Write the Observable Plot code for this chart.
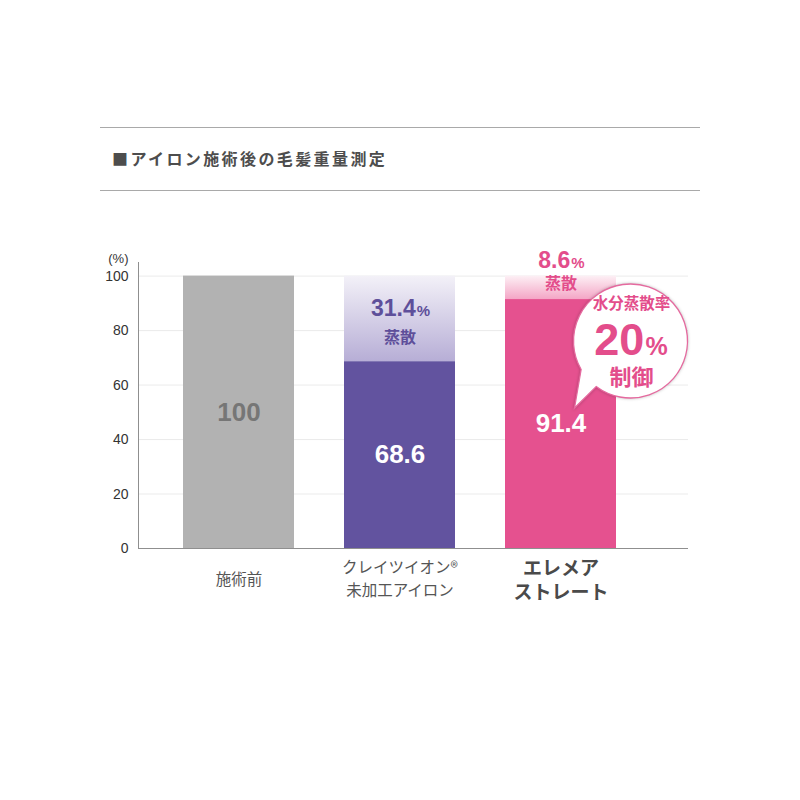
<!DOCTYPE html>
<html><head><meta charset="utf-8">
<script src="https://cdn.jsdelivr.net/npm/d3@7"></script>
<script src="https://cdn.jsdelivr.net/npm/@observablehq/plot@0.6"></script>
<style>
body{margin:0;background:#fff;}
#page{position:relative;width:800px;height:800px;font-family:"Liberation Sans",Arial,"Noto Sans CJK JP",sans-serif;}
.rule{position:absolute;left:100px;width:600px;height:0;border-top:1.5px solid #a9a9a9;}
#title{position:absolute;left:112px;top:146px;font-size:16px;font-weight:bold;letter-spacing:2.4px;color:#4d4d4d;line-height:24px;font-family:"Noto Sans CJK JP",sans-serif;white-space:nowrap;}
#chart{position:absolute;left:0;top:230px;}
</style></head>
<body><div id="page">
<div class="rule" style="top:127px"></div>
<div id="title">■アイロン施術後の毛髪重量測定</div>
<div class="rule" style="top:190px"></div>
<div id="chart"></div>
</div>
<script>
// ---- data ----
const categories = ["施術前", "クレイツイオン®\n未加工アイロン", "エレメア\nストレート"];
const remaining = [100, 68.6, 91.4];
const evaporated = [0, 31.4, 8.6];
const yTicks = [0, 20, 40, 60, 80, 100];
const yUnit = "(%)";
const evapWord = "蒸散";
const bubbleTop = "水分蒸散率";
const bubbleRate = 20;
const bubbleBottom = "制御";
const bubbleCenterValue = 76;
const bubbleTipValue = 51.4;

// ---- styles ----
const solidColors = ["#b2b2b2", "#62539f", "#e5518f"];
const gradIds = [null, "gPurple", "gPink"];
const gradStops = [null, ["#f3f1f8", "#b7aed6"], ["#fdf0f5", "#f4a6c6"]];
const valueLabelColors = ["#767676", "#ffffff", "#ffffff"];
const accentColors = [null, "#5e4f9a", "#e34d8b"];
const fontFamily = "'Liberation Sans', Arial, 'Noto Sans CJK JP', sans-serif";

const rows = categories.map((c, i) => ({
  idx: i, category: c, remaining: remaining[i], evaporated: evaporated[i],
  total: remaining[i] + evaporated[i]
}));

// approximate bold Arial widths for centering number + smaller "%"
function numWidth(s, fs) {
  let w = 0;
  for (const ch of s) w += ch === "." ? 0.278 : 0.556;
  return w * fs;
}
const pctW = fs => 0.889 * fs;

function pctLabel(row, value, fs, pfs, dy, color) {
  const s = String(value);
  const dx = (numWidth(s, fs) - pctW(pfs)) / 2;
  const data = [row];
  return [
    Plot.text(data, {x: "category", y: d => (d.remaining + d.total) / 2, text: () => s,
      textAnchor: "end", lineAnchor: "bottom", dx, dy, fontSize: fs, fontWeight: "bold", fill: color}),
    Plot.text(data, {x: "category", y: d => (d.remaining + d.total) / 2, text: () => "%",
      textAnchor: "start", lineAnchor: "bottom", dx: dx + 1, dy, fontSize: pfs, fontWeight: "bold", fill: color})
  ];
}
function wordLabel(row, dy, color) {
  return Plot.text([row], {x: "category", y: d => (d.remaining + d.total) / 2, text: () => evapWord,
    lineAnchor: "middle", dy, fontSize: 16, fontWeight: "bold", fill: color,
    fontFamily: "'Noto Sans CJK JP', sans-serif"});
}

const chart = Plot.plot({
  width: 800, height: 400,
  marginTop: 32, marginBottom: 82, marginLeft: 138, marginRight: 112,
  x: {domain: categories, paddingInner: 0.31, paddingOuter: 0.363, align: 0.385, axis: null},
  y: {domain: [0, 105], axis: null},
  color: {type: "identity"},
  style: {fontFamily, background: "white", overflow: "visible"},
  marks: [
    Plot.ruleY(yTicks.filter(t => t > 0), {stroke: "#ebebeb", strokeWidth: 1}),
    Plot.barY(rows, {x: "category", y: "remaining", fill: d => solidColors[d.idx]}),
    Plot.barY(rows.filter(d => d.evaporated > 0), {x: "category", y1: "remaining", y2: "total",
      fill: d => `url(#${gradIds[d.idx]})`}),
    Plot.ruleY([0], {stroke: "#8f8f8f", strokeWidth: 1}),
    Plot.frame({anchor: "left", stroke: "#8f8f8f"}),
    Plot.axisY(yTicks, {tickSize: 0, tickPadding: 10, fontSize: 14, fill: "#333", label: null}),
    Plot.text([yUnit], {text: d => d, frameAnchor: "top-left", textAnchor: "end", lineAnchor: "middle",
      dx: -10, dy: -4, fontSize: 13, fill: "#333"}),
    // x labels
    Plot.text(rows.filter(d => d.idx < 2), {x: "category", text: "category", frameAnchor: "bottom",
      lineAnchor: "middle", dy: 29, fontSize: 15.5, lineHeight: 1.45, fill: "#555",
      fontFamily: "'Noto Sans CJK JP', sans-serif"}),
    Plot.text(rows.filter(d => d.idx === 2), {x: "category", text: "category", frameAnchor: "bottom",
      lineAnchor: "middle", dy: 31, fontSize: 19, lineHeight: 1.25, fontWeight: "bold", fill: "#4a4a4a",
      fontFamily: "'Noto Sans CJK JP', sans-serif"}),
    // values inside bars
    Plot.text(rows, {x: "category", y: d => d.remaining / 2, text: d => String(d.remaining),
      fill: d => valueLabelColors[d.idx], fontSize: 26, fontWeight: "bold", lineAnchor: "middle"}),
    // evaporation labels
    ...pctLabel(rows[1], rows[1].evaporated, 23, 15, -3, accentColors[1]),
    wordLabel(rows[1], 19, accentColors[1]),
    ...pctLabel(rows[2], rows[2].evaporated, 23, 15, -20, accentColors[2]),
    wordLabel(rows[2], -4, accentColors[2])
  ]
});

document.getElementById("chart").appendChild(chart);

// gradients
const svg = d3.select(chart);
const defs = svg.insert("defs", ":first-child");
gradIds.forEach((id, i) => {
  if (!id) return;
  const g = defs.append("linearGradient").attr("id", id).attr("x1", 0).attr("y1", 0).attr("x2", 0).attr("y2", 1);
  g.append("stop").attr("offset", "0%").attr("stop-color", gradStops[i][0]);
  g.append("stop").attr("offset", "100%").attr("stop-color", gradStops[i][1]);
});

// speech bubble annotation, placed with the chart's scales
const xs = chart.scale("x"), ys = chart.scale("y");
const bi = 2;
const xc = xs.apply(categories[bi]) + xs.bandwidth / 2;
const cx = xc + 70, cy = ys.apply(bubbleCenterValue), r = 57;
const tipX = xc + 14, tipY = ys.apply(bubbleTipValue);
const a1 = 150 * Math.PI / 180, a2 = 127 * Math.PI / 180;
const p1 = [cx + r * Math.cos(a1), cy + r * Math.sin(a1)];
const p2 = [cx + r * Math.cos(a2), cy + r * Math.sin(a2)];
const pink = accentColors[bi];
const gb = svg.append("g");
gb.append("path")
  .attr("d", `M${p1}L${tipX},${tipY}L${p2}A${r},${r} 0 1 0 ${p1}Z`)
  .attr("fill", "white").attr("stroke", "#e56a9f").attr("stroke-width", 1.3)
  .style("filter", "drop-shadow(0px 0px 1.5px rgba(0,0,0,0.25))");
const tfam = "'Noto Sans CJK JP', sans-serif";
gb.append("text").attr("x", cx + 1).attr("y", cy - 37).attr("dy", "0.35em").attr("text-anchor", "middle")
  .attr("font-size", 15.5).attr("font-weight", "bold").attr("fill", pink).attr("font-family", tfam).text(bubbleTop);
const nfs = 45, pfs = 25;
const s = String(bubbleRate);
const ddx = (numWidth(s, nfs) - pctW(pfs)) / 2;
gb.append("text").attr("x", cx + ddx).attr("y", cy + 14).attr("text-anchor", "end")
  .attr("font-size", nfs).attr("font-weight", "bold").attr("fill", pink).text(s);
gb.append("text").attr("x", cx + ddx + 1).attr("y", cy + 14).attr("text-anchor", "start")
  .attr("font-size", pfs).attr("font-weight", "bold").attr("fill", pink).text("%");
gb.append("text").attr("x", cx + 1).attr("y", cy + 36).attr("dy", "0.35em").attr("text-anchor", "middle")
  .attr("font-size", 22).attr("font-weight", "bold").attr("fill", pink).attr("font-family", tfam).text(bubbleBottom);
</script>
</body></html>
